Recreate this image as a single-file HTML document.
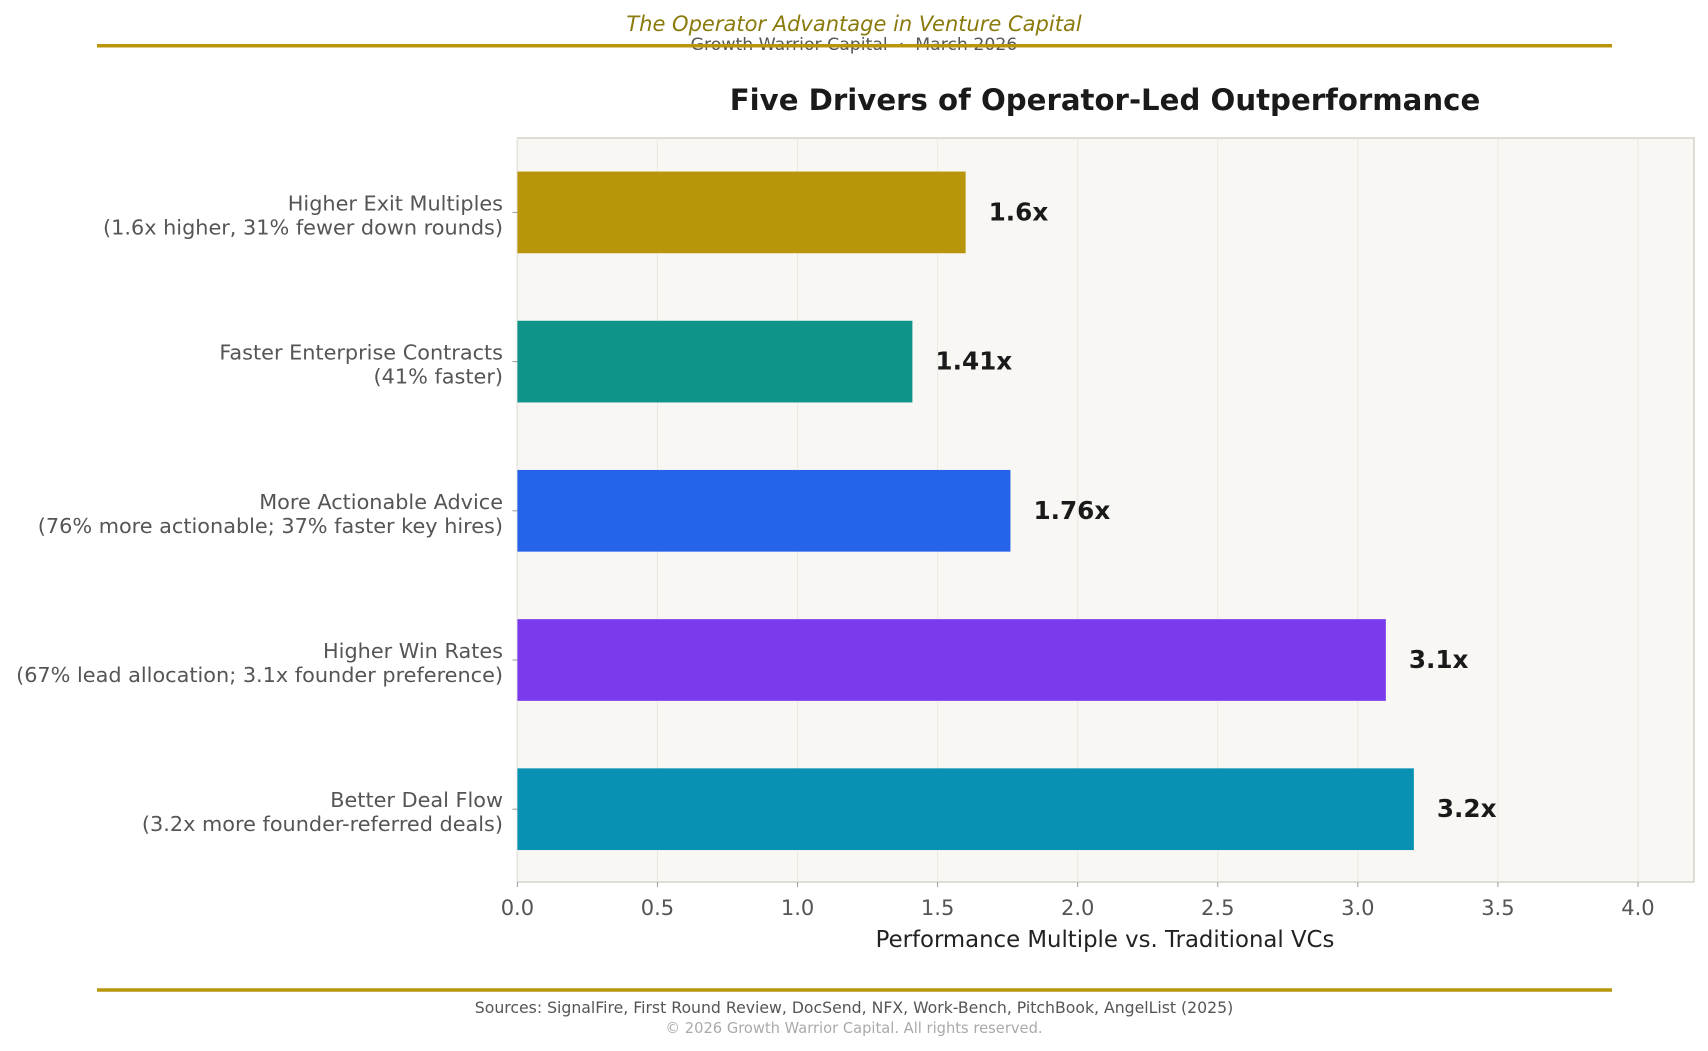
<!DOCTYPE html>
<html><head><meta charset="utf-8"><style>
html,body{margin:0;padding:0;background:#fff;}
svg{display:block;font-family:"DejaVu Sans","Liberation Sans",sans-serif;}
</style></head><body>
<svg id="chart" width="1708" height="1051" viewBox="0 0 1708 1051" xmlns="http://www.w3.org/2000/svg">
<text x="854" y="31" text-anchor="middle" font-size="21" font-style="italic" fill="#8a7a0c">The Operator Advantage in Venture Capital</text>
<text x="854" y="50" text-anchor="middle" font-size="17.3" fill="#555">Growth Warrior Capital &#160;·&#160; March 2026</text>
<line x1="97" y1="45.7" x2="1612" y2="45.7" stroke="#b8960b" stroke-width="3.5"/>
<text x="1105" y="110" text-anchor="middle" font-size="29.2" font-weight="bold" fill="#1a1a1a">Five Drivers of Operator-Led Outperformance</text>
<rect x="517.4" y="138" width="1176.6" height="744" fill="#f8f7f4" stroke="#cfccc4" stroke-width="1.3"/>
<g id="grid"></g>
<g id="bars"></g>
<g id="xticks"></g>
<g id="yticks"></g>
<text x="1105" y="947" text-anchor="middle" font-size="22.8" fill="#222">Performance Multiple vs. Traditional VCs</text>
<line x1="97" y1="990" x2="1612" y2="990" stroke="#b8960b" stroke-width="3.5"/>
<text x="854" y="1013" text-anchor="middle" font-size="15.7" fill="#555">Sources: SignalFire, First Round Review, DocSend, NFX, Work-Bench, PitchBook, AngelList (2025)</text>
<text x="854" y="1033" text-anchor="middle" font-size="14.7" fill="#aaa">© 2026 Growth Warrior Capital. All rights reserved.</text>
</svg>
<script>
const categories = ["Higher Exit Multiples","Faster Enterprise Contracts","More Actionable Advice","Higher Win Rates","Better Deal Flow"];
const subLabels = ["(1.6x higher, 31% fewer down rounds)","(41% faster)","(76% more actionable; 37% faster key hires)","(67% lead allocation; 3.1x founder preference)","(3.2x more founder-referred deals)"];
const values = [1.6,1.41,1.76,3.1,3.2];
const valueLabels = ["1.6x","1.41x","1.76x","3.1x","3.2x"];
const colors = ["#b8960b","#0e9488","#2563eb","#7c3aed","#0891b2"];
const xTicks = [0,0.5,1,1.5,2,2.5,3,3.5,4];
const xTickLabels = ["0.0","0.5","1.0","1.5","2.0","2.5","3.0","3.5","4.0"];

const NS="http://www.w3.org/2000/svg";
const X0=517.4, X1=1694, XMAX=4.2, YTOP=138, YBOT=882;
const x = v => X0 + v/XMAX*(X1-X0);
const step=149.2, firstY=212.4;
const yc = i => firstY + i*step;
const bh = 81.7;
function mk(tag,attrs,parent){const e=document.createElementNS(NS,tag);for(const k in attrs)e.setAttribute(k,attrs[k]);parent.appendChild(e);return e;}
const grid=document.getElementById('grid'), bars=document.getElementById('bars'), xt=document.getElementById('xticks'), yt=document.getElementById('yticks');
xTicks.forEach((t,i)=>{
  const g=mk('line',{x1:x(t),x2:x(t),y1:YTOP,y2:YBOT,stroke:'#ebe8e2','stroke-width':1},grid);
  
  
  const tk=mk('line',{x1:x(t),x2:x(t),y1:YBOT,y2:YBOT+5,stroke:'#999','stroke-width':1},xt);
  
  
  const tl=mk('text',{x:x(t),y:915,'text-anchor':'middle','font-size':21,fill:'#555'},xt);
  tl.textContent=xTickLabels[i];
  
  
});
categories.forEach((c,i)=>{
  const r=mk('rect',{x:X0,y:yc(i)-bh/2,width:x(values[i])-X0,height:bh,fill:colors[i]},bars);
  
  
  const vl=mk('text',{x:x(values[i])+23,y:yc(i)+8,'font-size':24.7,'font-weight':'bold',fill:'#1a1a1a'},bars);
  vl.textContent=valueLabels[i];
  
  
  const tk=mk('line',{x1:X0-5,x2:X0,y1:yc(i),y2:yc(i),stroke:'#999','stroke-width':1},yt);
  
  
  const l1=mk('text',{x:503,y:yc(i)-2,'text-anchor':'end','font-size':20.8,fill:'#555'},yt);
  l1.textContent=c;
  
  
  const l2=mk('text',{x:503,y:yc(i)+22,'text-anchor':'end','font-size':20.8,fill:'#555'},yt);
  l2.textContent=subLabels[i];
  
  
});
</script>
</body></html>
